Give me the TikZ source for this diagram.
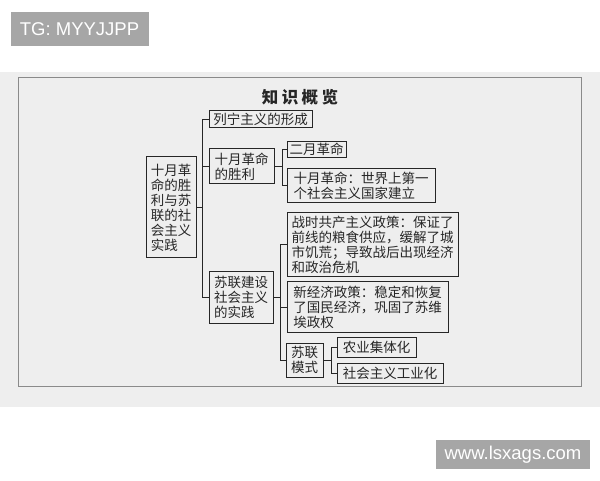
\documentclass[tikz,border=0pt]{standalone}
\usepackage{fontspec}
\newfontfamily\cjk{Noto Sans CJK SC}
\newfontfamily\wmfont{Liberation Sans}
\definecolor{paper}{HTML}{EEEEEE}
\definecolor{ink}{HTML}{262626}
\definecolor{wmgrey}{HTML}{A6A6A6}
\definecolor{framegrey}{HTML}{8A8A8A}
\tikzset{
  bx/.style={draw=ink, line width=1pt, inner sep=0pt, align=left, text=ink,
    font=\cjk\fontsize{13.5}{15}\selectfont},
  conn/.style={draw=ink, line width=1pt},
  wm/.style={fill=wmgrey, text=white, inner sep=0pt, font=\wmfont\fontsize{18.5}{20}\selectfont}
}
\begin{document}
\begin{tikzpicture}[x=1pt,y=1pt]
\useasboundingbox[fill=white] (0,0) rectangle (600,480);
\fill[paper] (0,73) rectangle (600,408);
\draw[framegrey, line width=1pt] (18,94) rectangle (581,402);
% watermarks
\node[wm, minimum width=138, minimum height=34.5] (tg) at (79.5,451) {TG: MYYJJPP};
\node[wm, minimum width=154, minimum height=29] (url) at (513,25.5) {www.lsxags.com};
% title
\node[text=ink, font=\cjk\bfseries\fontsize{16.5}{18}\selectfont, inner sep=0pt] (title) at (300,383) {知\hspace{3.5pt}识\hspace{3.5pt}概\hspace{3.5pt}览};
% boxes
\node[bx, minimum width=50, minimum height=101] (root) at (171,272.5) {十月革\\命的胜\\利与苏\\联的社\\会主义\\实践};
\node[bx, minimum width=103, minimum height=17] (lenin) at (260.5,360.5) {列宁主义的形成};
\node[bx, minimum width=65, minimum height=35] (srev) at (241.5,313.5) {十月革命\\的胜利};
\node[bx, minimum width=59, minimum height=16] (feb) at (316.5,330.5) {二月革命};
\node[bx, minimum width=148, minimum height=34] (oct) at (361,294) {十月革命：世界上第一\\个社会主义国家建立};
\node[bx, minimum width=64, minimum height=51] (sjs) at (241,182.5) {苏联建设\\社会主义\\的实践};
\node[bx, minimum width=171, minimum height=64] (war) at (372.5,235) {战时共产主义政策：保证了\\前线的粮食供应，缓解了城\\市饥荒；导致战后出现经济\\和政治危机};
\node[bx, minimum width=161, minimum height=50] (nep) at (367.5,173) {新经济政策：稳定和恢复\\了国民经济，巩固了苏维\\埃政权};
\node[bx, minimum width=37, minimum height=34] (model) at (304.5,120) {苏联\\模式};
\node[bx, minimum width=79, minimum height=20] (agri) at (376.5,133) {农业集体化};
\node[bx, minimum width=106, minimum height=20] (ind) at (390,107) {社会主义工业化};
% bracket x positions
\coordinate (b1) at (202,0);
\coordinate (b2) at (282,0);
\coordinate (b3) at (280,0);
\coordinate (b4) at (331,0);
% connectors
\draw[conn] (root.east) -- (root.east -| b1);
\draw[conn] (lenin.west) -- (lenin.west -| b1) -- (sjs.west -| b1) -- (sjs.west);
\draw[conn] (srev.west) -- (srev.west -| b1);
\draw[conn] (srev.east) -- (srev.east -| b2);
\draw[conn] (feb.west) -- (feb.west -| b2) -- (oct.west -| b2) -- (oct.west);
\draw[conn] (sjs.east) -- (sjs.east -| b3);
\draw[conn] (war.west) -- (war.west -| b3) -- (model.west -| b3) -- (model.west);
\draw[conn] (nep.west) -- (nep.west -| b3);
\draw[conn] (model.east) -- (model.east -| b4);
\draw[conn] (agri.west) -- (agri.west -| b4) -- (ind.west -| b4) -- (ind.west);
\end{tikzpicture}
\end{document}
